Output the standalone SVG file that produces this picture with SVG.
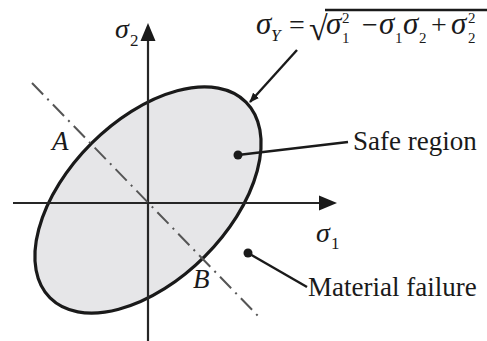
<svg xmlns="http://www.w3.org/2000/svg" width="487" height="341" viewBox="0 0 487 341">
<defs>
<style>
.t{font-family:"Liberation Serif","Times New Roman",serif;fill:#1a1a1a}
.i{font-style:italic}
.ax{stroke:#262626;stroke-width:2.2;fill:none}
.lead{stroke:#1a1a1a;stroke-width:2.4;fill:none}
</style>
<marker id="ah" markerWidth="10" markerHeight="8" refX="9" refY="4" orient="auto" markerUnits="userSpaceOnUse" viewBox="0 0 10 8">
<path d="M0,0 L10,4 L0,8 Z" fill="#1a1a1a"/>
</marker>
</defs>
<rect width="487" height="341" fill="#fff"/>
<g id="region">
<ellipse cx="148" cy="200" rx="138.5" ry="80" transform="rotate(-45 148 200)" fill="#e6e6e8" stroke="#1a1a1a" stroke-width="3.2"/>
</g>
<g id="connectors">
<line class="ax" x1="13" y1="203" x2="320" y2="203"/>
<path d="M319,195.5 L337,203 L319,210.5 Z" fill="#1a1a1a"/>
<line class="ax" x1="148" y1="341" x2="148" y2="40"/>
<path d="M140.5,41 L148,23 L155.5,41 Z" fill="#1a1a1a"/>
<line x1="32" y1="83" x2="260" y2="318" stroke="#555" stroke-width="2" stroke-dasharray="16 6 2 6"/>
<line class="lead" x1="297" y1="50" x2="250" y2="102" marker-end="url(#ah)"/>
<line class="lead" x1="238" y1="155" x2="348" y2="142"/>
<circle cx="238" cy="155" r="4.5" fill="#1a1a1a"/>
<line class="lead" x1="248" y1="253" x2="307" y2="287"/>
<circle cx="248" cy="253" r="4.5" fill="#1a1a1a"/>
</g>
<g id="formula" class="t">
<text class="t i" x="256" y="34" font-size="31">σ</text>
<text class="t i" x="271" y="41" font-size="17">Y</text>
<text class="t" x="289" y="34" font-size="28">=</text>
<text class="t" x="309" y="40" font-size="34">√</text>
<line x1="325" y1="10" x2="487" y2="10" stroke="#1a1a1a" stroke-width="2.4"/>
<text class="t i" x="326" y="34" font-size="31">σ</text>
<text class="t" x="342" y="23" font-size="15">2</text>
<text class="t" x="342" y="43" font-size="15">1</text>
<text class="t" x="362" y="34" font-size="28">−</text>
<text class="t i" x="379" y="34" font-size="31">σ</text>
<text class="t" x="395" y="43" font-size="15">1</text>
<text class="t i" x="403" y="34" font-size="31">σ</text>
<text class="t" x="419" y="43" font-size="15">2</text>
<text class="t" x="431" y="34" font-size="28">+</text>
<text class="t i" x="451" y="34" font-size="31">σ</text>
<text class="t" x="468" y="23" font-size="15">2</text>
<text class="t" x="468" y="43" font-size="15">2</text>
</g>
<g id="axis-labels">
<text class="t i" x="115" y="38" font-size="28">σ</text>
<text class="t" x="130" y="46" font-size="17">2</text>
<text class="t i" x="316" y="242" font-size="28">σ</text>
<text class="t" x="331" y="249" font-size="17">1</text>
</g>
<g id="point-A"><text class="t i" x="52" y="150" font-size="27">A</text></g>
<g id="point-B"><text class="t i" x="193" y="288" font-size="27">B</text></g>
<g id="safe-region"><text class="t" x="353" y="150" font-size="27">Safe region</text></g>
<g id="material-failure"><text class="t" x="308" y="296" font-size="27">Material failure</text></g>
</svg>
